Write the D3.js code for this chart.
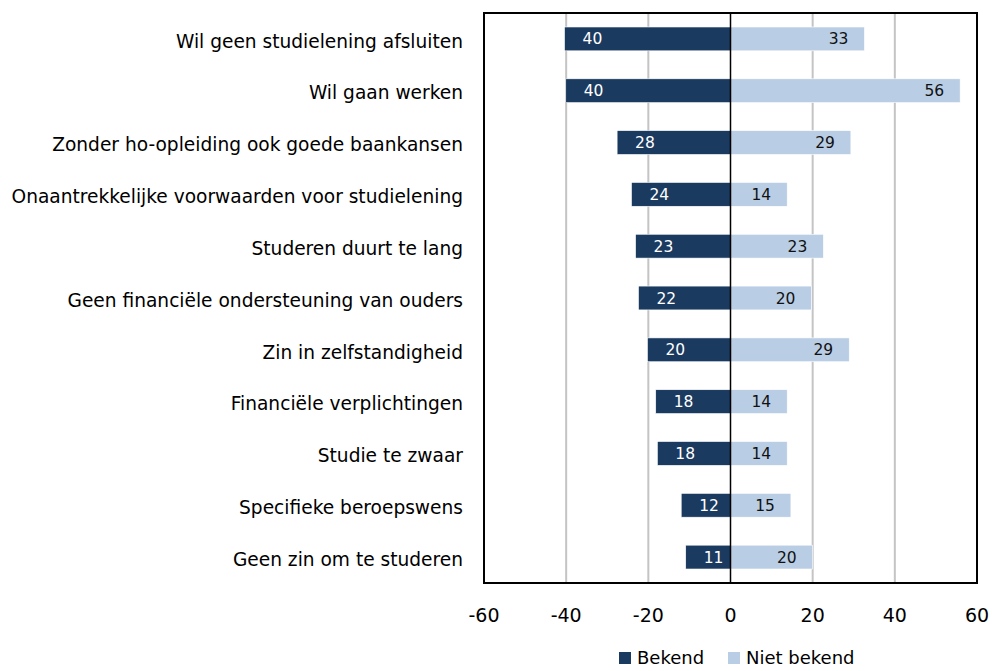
<!DOCTYPE html>
<html>
<head>
<meta charset="utf-8">
<script src="https://cdn.jsdelivr.net/npm/d3@7"></script>
<style>
  body { margin: 0; background: #fff; }
  svg { display: block; font-family: "DejaVu Sans", sans-serif; }
</style>
</head>
<body>
<div id="vis"></div>
<script>
// data
const CATEGORIES = [
    "Wil geen studielening afsluiten",
    "Wil gaan werken",
    "Zonder ho-opleiding ook goede baankansen",
    "Onaantrekkelijke voorwaarden voor studielening",
    "Studeren duurt te lang",
    "Geen financiële ondersteuning van ouders",
    "Zin in zelfstandigheid",
    "Financiële verplichtingen",
    "Studie te zwaar",
    "Specifieke beroepswens",
    "Geen zin om te studeren"
];
const BEKEND = [40.4, 40.1, 27.6, 24.1, 23.1, 22.4, 20.2, 18.2, 17.8, 12.0, 10.9];
const NIET_BEKEND = [32.6, 55.9, 29.3, 13.8, 22.6, 19.7, 28.9, 13.8, 13.8, 14.7, 20.0];
const X_TICKS = [-60, -40, -20, 0, 20, 40, 60];
const SERIES = ["Bekend", "Niet bekend"];
const COLORS = ["#1b3a5f", "#b9cde5"];

const FRAME_WIDTH = 992;
const FRAME_HEIGHT = 671;
const MARGINS = {left: 484, right: 15, top: 13, bottom: 88};
const VIS_WIDTH = FRAME_WIDTH - MARGINS.left - MARGINS.right;
const VIS_HEIGHT = FRAME_HEIGHT - MARGINS.top - MARGINS.bottom;

const FRAME = d3.select("#vis")
    .append("svg")
      .attr("width", FRAME_WIDTH)
      .attr("height", FRAME_HEIGHT);

const G = FRAME.append("g")
    .attr("transform", "translate(" + MARGINS.left + "," + MARGINS.top + ")");

const X_SCALE = d3.scaleLinear()
    .domain([-60, 60])
    .range([0, VIS_WIDTH]);

const Y_SCALE = d3.scaleBand()
    .domain(CATEGORIES)
    .range([0, VIS_HEIGHT])
    .paddingInner(0.54)
    .paddingOuter(0.27);

// gridlines
G.selectAll(".grid")
    .data(X_TICKS.filter(t => t !== 0 && Math.abs(t) !== 60))
    .enter()
    .append("line")
      .attr("x1", d => X_SCALE(d))
      .attr("x2", d => X_SCALE(d))
      .attr("y1", 0)
      .attr("y2", VIS_HEIGHT)
      .attr("stroke", "#c4c4c4")
      .attr("stroke-width", 2);

// bars: Bekend to the left, Niet bekend to the right
const rows = CATEGORIES.map((c, i) => ({cat: c, bekend: BEKEND[i], niet: NIET_BEKEND[i]}));

G.selectAll(".bar-b")
    .data(rows)
    .enter()
    .append("rect")
      .attr("x", d => X_SCALE(-d.bekend))
      .attr("y", d => Y_SCALE(d.cat))
      .attr("width", d => X_SCALE(0) - X_SCALE(-d.bekend))
      .attr("height", Y_SCALE.bandwidth())
      .attr("fill", COLORS[0])
      .attr("stroke", "#fff")
      .attr("stroke-width", 0.6);

G.selectAll(".bar-n")
    .data(rows)
    .enter()
    .append("rect")
      .attr("x", X_SCALE(0))
      .attr("y", d => Y_SCALE(d.cat))
      .attr("width", d => X_SCALE(d.niet) - X_SCALE(0))
      .attr("height", Y_SCALE.bandwidth())
      .attr("fill", COLORS[1])
      .attr("stroke", "#fff")
      .attr("stroke-width", 0.6);

// value labels
G.selectAll(".lab-b")
    .data(rows)
    .enter()
    .append("text")
      .attr("x", d => X_SCALE(-d.bekend) + 18)
      .attr("y", d => Y_SCALE(d.cat) + Y_SCALE.bandwidth() / 2)
      .attr("dy", "0.36em")
      .attr("fill", "#fff")
      .attr("font-size", "15.5px")
      .text(d => Math.round(d.bekend));

G.selectAll(".lab-n")
    .data(rows)
    .enter()
    .append("text")
      .attr("x", d => X_SCALE(d.niet) - 16)
      .attr("y", d => Y_SCALE(d.cat) + Y_SCALE.bandwidth() / 2)
      .attr("dy", "0.36em")
      .attr("text-anchor", "end")
      .attr("fill", "#111")
      .attr("font-size", "15.5px")
      .text(d => Math.round(d.niet));

// zero line
G.append("line")
    .attr("x1", X_SCALE(0))
    .attr("x2", X_SCALE(0))
    .attr("y1", 0)
    .attr("y2", VIS_HEIGHT)
    .attr("stroke", "#000")
    .attr("stroke-width", 1.5);

// plot frame
G.append("rect")
    .attr("x", 0)
    .attr("y", 0)
    .attr("width", VIS_WIDTH)
    .attr("height", VIS_HEIGHT)
    .attr("fill", "none")
    .attr("stroke", "#000")
    .attr("stroke-width", 2);

// x axis labels
G.selectAll(".xtick")
    .data(X_TICKS)
    .enter()
    .append("text")
      .attr("x", d => X_SCALE(d))
      .attr("y", VIS_HEIGHT + 39)
      .attr("text-anchor", "middle")
      .attr("font-size", "19px")
      .attr("fill", "#000")
      .text(d => d);

// category labels
G.selectAll(".ytick")
    .data(CATEGORIES)
    .enter()
    .append("text")
      .attr("x", -21)
      .attr("y", d => Y_SCALE(d) + Y_SCALE.bandwidth() / 2 + 2)
      .attr("dy", "0.36em")
      .attr("text-anchor", "end")
      .attr("font-size", "18.6px")
      .attr("fill", "#000")
      .text(d => d);

// legend
const LEGEND_X = [619, 728];
const legend = FRAME.selectAll(".legend")
    .data(SERIES)
    .enter()
    .append("g")
      .attr("transform", (d, i) => "translate(" + LEGEND_X[i] + ",652)");

legend.append("rect")
    .attr("width", 12)
    .attr("height", 12)
    .attr("fill", (d, i) => COLORS[i]);

legend.append("text")
    .attr("x", 18)
    .attr("y", 6)
    .attr("dy", "0.36em")
    .attr("font-size", "18px")
    .attr("fill", "#000")
    .text(d => d);
</script>
</body>
</html>
